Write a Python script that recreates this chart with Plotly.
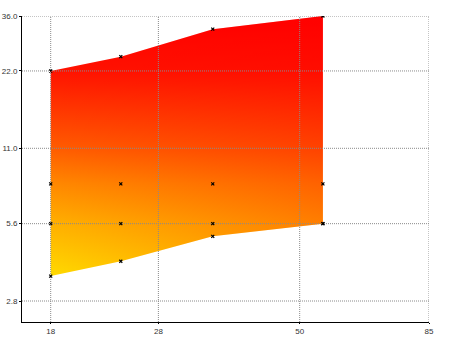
import math
import plotly.graph_objects as go

# ---- data ----
x_vals = [18, 24, 35, 55]
y_top = [22, 25, 32, 36]
y_row8 = [8, 8, 8, 8]
y_row56 = [5.6, 5.6, 5.6, 5.6]
y_bottom = [3.5, 4.0, 5.0, 5.6]

x_ticks = [18, 28, 50, 85]
x_ticktext = ["18", "28", "50", "85"]
y_ticks = [2.8, 5.6, 11.0, 22.0, 36.0]
y_ticktext = ["2.8", "5.6", "11.0", "22.0", "36.0"]
x_range = [16, 85]
y_range = [2.32, 36]

# ---- styling ----
vertical_scale = [
    [0.0, "rgb(255,218,0)"],
    [0.2, "rgb(255,176,0)"],
    [0.355, "rgb(255,136,0)"],
    [0.49, "rgb(255,92,0)"],
    [0.79, "rgb(255,18,0)"],
    [1.0, "rgb(255,0,0)"],
]
horizontal_overlay = [
    [0.0, "rgba(255,0,0,0)"],
    [1.0, "rgba(255,0,0,0.28)"],
]
grid_color = "#8a8a8a"
font = dict(family="Liberation Sans, Arial, sans-serif", size=8, color="#333333")

poly_x = x_vals + x_vals[::-1]
poly_y = y_top + y_bottom[::-1]

fig = go.Figure()

fig.add_trace(go.Scatter(
    x=poly_x, y=poly_y, mode="none", fill="toself",
    fillgradient=dict(type="vertical", colorscale=vertical_scale),
    hoverinfo="skip", showlegend=False,
))
fig.add_trace(go.Scatter(
    x=poly_x, y=poly_y, mode="none", fill="toself",
    fillgradient=dict(type="horizontal", colorscale=horizontal_overlay),
    hoverinfo="skip", showlegend=False,
))

# grid lines drawn above the fill
gx, gy = [], []
for t in x_ticks:
    gx += [t, t, None]
    gy += [y_range[0], y_range[1], None]
for t in y_ticks:
    gx += [x_range[0], x_range[1], None]
    gy += [t, t, None]
fig.add_trace(go.Scatter(
    x=gx, y=gy, mode="lines",
    line=dict(color=grid_color, width=1, dash="1px,1px"),
    hoverinfo="skip", showlegend=False,
))

# data point markers
mx, my = [], []
for row in (y_bottom, y_row56, y_row8, y_top):
    mx += x_vals
    my += row
fig.add_trace(go.Scatter(
    x=mx, y=my, mode="markers",
    marker=dict(symbol="x-thin", size=3, color="black",
                line=dict(color="black", width=1.2)),
    hoverinfo="skip", showlegend=False,
))

fig.update_layout(
    width=450, height=337,
    margin=dict(l=22, r=21, t=16, b=15),
    paper_bgcolor="white", plot_bgcolor="white",
    font=font,
    xaxis=dict(
        type="log", range=[math.log10(x_range[0]), math.log10(x_range[1])],
        tickvals=x_ticks, ticktext=x_ticktext, automargin=False,
        showgrid=False, zeroline=False,
        showline=True, linecolor="black", linewidth=1,
        ticks="outside", ticklen=1, tickcolor="black",
        tickfont=font, layer="above traces",
    ),
    yaxis=dict(
        type="log", range=[math.log10(y_range[0]), math.log10(y_range[1])],
        tickvals=y_ticks, ticktext=y_ticktext, automargin=False,
        showgrid=False, zeroline=False,
        showline=True, linecolor="black", linewidth=1,
        ticks="outside", ticklen=2, tickcolor="black",
        tickfont=font, layer="above traces",
    ),
)

fig.write_html("out.html")
